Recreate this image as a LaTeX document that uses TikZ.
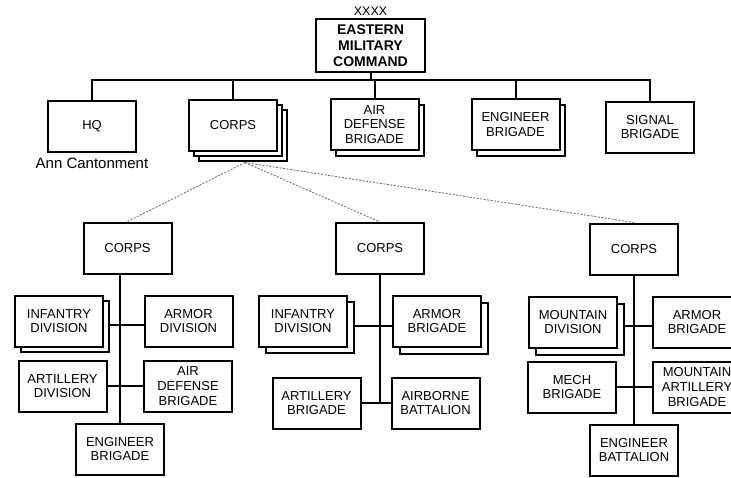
\documentclass[tikz,border=0pt]{standalone}
\usepackage{fontspec}
\setmainfont{Liberation Sans}
\usetikzlibrary{shadows,backgrounds}

\tikzset{
  unit/.style={draw, line width=2pt, fill=white, minimum width=88pt,
    minimum height=51pt, align=center, inner sep=1pt,
    font=\fontsize{13}{14.6}\selectfont},
  stacked/.style={copy shadow={shadow xshift=#1, shadow yshift=-#1, line width=2pt}},
  stacktwo/.style={copy shadow={shadow xshift=10pt, shadow yshift=-10pt, line width=2pt},
    copy shadow={shadow xshift=5pt, shadow yshift=-5pt, line width=2pt}},
  link/.style={line width=2pt},
  attach/.style={draw=black!55, line width=0.9pt, dash pattern=on 2pt off 1.5pt},
}

\begin{document}
\begin{tikzpicture}[x=1pt, y=-1pt]
\useasboundingbox (0,0) rectangle (731,477);
\path[clip] (0,0) rectangle (731,477);

% command level
\node[unit, minimum width=109pt, minimum height=53pt,
  font=\bfseries\fontsize{14}{16}\selectfont] (emc) at (370.5,45.5)
  {EASTERN\\MILITARY\\COMMAND};
\node[anchor=south, inner sep=0pt, font=\fontsize{12.5}{14}\selectfont] (xx)
  at ([yshift=2.5pt]emc.north) {XXXX};

% formations directly under command
\node[unit] (hq)     at (92,126)    {HQ};
\node[unit, stacktwo] (corpsT) at (233,125.5) {CORPS};
\node[unit, stacked=5.5pt] (adT) at (374.5,124.5) {AIR\\DEFENSE\\BRIGADE};
\node[unit, stacked=5.5pt] (engT) at (515.5,124.5) {ENGINEER\\BRIGADE};
\node[unit] (sig)    at (650,127)   {SIGNAL\\BRIGADE};
\node[anchor=north, inner sep=0pt, font=\fontsize{15}{17}\selectfont] (loc)
  at ([yshift=-5.5pt]hq.south) {Ann Cantonment};

% first corps
\node[unit] (corpsL) at (127.5,248) {CORPS};
\node[unit, stacked=5.5pt] (infL) at (59,321) {INFANTRY\\DIVISION};
\node[unit] (armL) at (188.5,321) {ARMOR\\DIVISION};
\node[unit] (artL) at (62.5,386) {ARTILLERY\\DIVISION};
\node[unit] (adL)  at (188,386) {AIR\\DEFENSE\\BRIGADE};
\node[unit] (engL) at (120,449) {ENGINEER\\BRIGADE};

% second corps
\node[unit] (corpsM) at (380,248.5) {CORPS};
\node[unit, stacked=6.5pt] (infM) at (303,321) {INFANTRY\\DIVISION};
\node[unit, stacked=7pt] (armM) at (437,321) {ARMOR\\BRIGADE};
\node[unit] (artM) at (316.5,403) {ARTILLERY\\BRIGADE};
\node[unit] (abnM) at (435.5,403) {AIRBORNE\\BATTALION};

% third corps
\node[unit] (corpsR) at (634,249) {CORPS};
\node[unit, stacked=7pt] (mtnR) at (573,322) {MOUNTAIN\\DIVISION};
\node[unit] (armR) at (697,322) {ARMOR\\BRIGADE};
\node[unit] (mechR) at (572,387) {MECH\\BRIGADE};
\node[unit] (martR) at (697,387) {MOUNTAIN\\ARTILLERY\\BRIGADE};
\node[unit] (engR) at (634,450) {ENGINEER\\BATTALION};

\coordinate (bus) at ([yshift=-6.5pt]emc.south);
\coordinate (fan) at ([xshift=12pt, yshift=-10.5pt]corpsT.south);

\begin{scope}[on background layer]
  % command bus
  \draw[link] (emc.south) -- (bus);
  \draw[link] (hq.north) |- (bus) -| (sig.north);
  \draw[link] (corpsT.north) -- (corpsT.north |- bus);
  \draw[link] (adT.north) -- (adT.north |- bus);
  \draw[link] (engT.north) -- (engT.north |- bus);

  % corps breakdown
  \draw[attach] (fan) -- (corpsL.north);
  \draw[attach] (fan) -- (corpsM.north);
  \draw[attach] (fan) -- (corpsR.north);

  % first corps
  \draw[link] (engL.north |- corpsL.south) -- (engL.north);
  \draw[link] ([yshift=-4pt]infL.east) -- ([yshift=-4pt]armL.west);
  \draw[link] (artL.east) -- (adL.west);

  % second corps
  \draw[link] (corpsM.south) -- (corpsM.south |- artM.east);
  \draw[link] ([yshift=-4.5pt]infM.east) -- ([yshift=-4.5pt]armM.west);
  \draw[link] (artM.east) -- (abnM.west);

  % third corps
  \draw[link] (corpsR.south) -- (engR.north);
  \draw[link] ([yshift=-3.5pt]mtnR.east) -- ([yshift=-3.5pt]armR.west);
  \draw[link] (mechR.east) -- (martR.west);
\end{scope}
\end{tikzpicture}
\end{document}
